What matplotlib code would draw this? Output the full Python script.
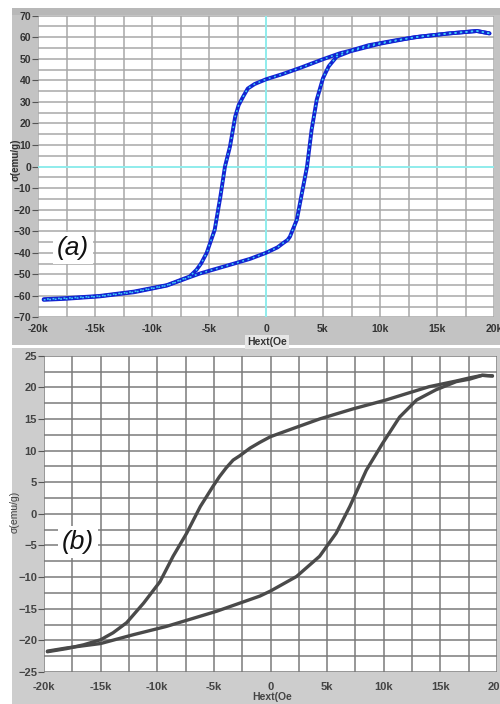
import numpy as np
import matplotlib
matplotlib.use('Agg')
import matplotlib.pyplot as plt
from matplotlib.patches import Rectangle

# panel (a) loop, field in kOe, sigma in emu/g
a_down_h = [19.6, 18.5, 16.1, 13.5, 11.5, 9.0, 7.4, 6.5, 5.0, 3.0, 1.5, 0.0, -1.0, -1.6, -2.0, -2.4, -2.7,
            -3.16, -3.6, -4.0, -4.5, -5.2, -5.7, -6.1, -6.7, -8.7, -11.6, -14.6, -17.5, -19.5]
a_down_s = [61.8, 62.9, 61.8, 60.3, 58.7, 56.3, 53.8, 52.6, 49.8, 45.8, 43.0, 40.5, 38.3, 36.2, 32.5, 28.5,
            23.2, 9.3, 0.0, -13.9, -29.3, -40.0, -45.0, -47.9, -51.0, -55.0, -58.0, -60.0, -61.0, -61.5]
a_up_h = [-19.5, -17.5, -14.6, -11.6, -8.7, -6.7, -5.8, -3.0, -1.4, 0.0, 1.0, 1.5, 1.9, 2.1, 2.7, 3.15,
          3.6, 4.0, 4.45, 5.0, 5.5, 6.2, 7.4, 10.0, 13.0, 16.1, 18.5, 19.6]
a_up_s = [-61.8, -61.3, -60.2, -58.3, -55.2, -51.3, -49.6, -45.3, -42.8, -40.0, -37.5, -35.5, -34.0,
          -32.5, -24.7, -12.3, 0.0, 17.0, 31.0, 41.0, 46.5, 51.0, 53.5, 57.0, 60.0, 61.8, 62.9, 61.8]

# panel (b) loop
b_down_h = [19.6, 18.7, 17.6, 16.4, 14.0, 12.0, 10.2, 7.3, 4.34, 2.0, 0.0, -0.94, -1.8, -2.7, -3.3,
            -3.9, -4.5, -5.06, -6.2, -7.4, -8.6, -9.75, -11.2, -12.7, -13.9, -15.0, -16.5, -18.0, -19.7]
b_down_s = [21.8, 21.9, 21.5, 21.0, 20.1, 19.0, 18.0, 16.6, 15.0, 13.5, 12.2, 11.3, 10.4, 9.2, 8.5,
            7.3, 5.9, 4.4, 1.15, -3.05, -6.7, -10.7, -14.1, -17.2, -18.8, -19.9, -20.7, -21.3, -21.8]
b_up_h = [-19.7, -18.0, -15.0, -12.1, -9.2, -4.76, -0.94, 0.0, 2.3, 4.34, 5.8, 7.0, 8.46, 9.9, 11.4,
          12.9, 14.6, 16.4, 17.6, 18.7, 19.6]
b_up_s = [-21.7, -21.2, -20.5, -19.1, -17.8, -15.4, -13.0, -12.2, -9.9, -6.7, -3.05, 1.15, 6.9, 11.15,
          15.3, 18.0, 19.6, 20.9, 21.3, 21.9, 21.8]

x_ticks = [-20, -15, -10, -5, 0, 5, 10, 15, 20]
x_labels = ['-20k', '-15k', '-10k', '-5k', '0', '5k', '10k', '15k', '20k']

plt.rcParams['font.family'] = ['Liberation Sans', 'DejaVu Sans']

W, H = 500, 704
fig = plt.figure(figsize=(W / 100, H / 100), dpi=100)
fig.patch.set_facecolor('white')


def px_rect(x0, y0, x1, y1, color, z=0):
    fig.add_artist(Rectangle((x0 / W, 1 - y1 / H), (x1 - x0) / W, (y1 - y0) / H,
                             transform=fig.transFigure, facecolor=color, edgecolor='none', zorder=z))


# grey frames of the two scanned panels
px_rect(12, 8, 500, 345, '#c3c3c3')
px_rect(12, 8, 500, 15, '#b8b8b8')
px_rect(12, 348, 500, 704, '#cdcdcd')


def px_axes(x0, y0, x1, y1):
    return fig.add_axes([x0 / W, 1 - y1 / H, (x1 - x0) / W, (y1 - y0) / H])


def style(ax, ylim, ymaj, ymin, gridc, labc, fs, xpad):
    ax.set_xlim(-20, 20)
    ax.set_ylim(*ylim)
    ax.set_xticks(x_ticks)
    ax.set_xticklabels(x_labels)
    ax.set_xticks(np.arange(-17.5, 20, 5), minor=True)
    ax.set_yticks(ymaj)
    ax.set_yticks(ymin, minor=True)
    ax.grid(which='both', color=gridc, lw=1.1)
    ax.set_axisbelow(True)
    for s in ax.spines.values():
        s.set_visible(False)
    ax.tick_params(axis='x', which='both', length=0, pad=xpad, labelsize=fs, labelcolor=labc)
    ax.tick_params(axis='y', which='major', length=4, width=0.8, color='#555555', pad=1,
                   labelsize=fs, labelcolor=labc)
    ax.tick_params(axis='y', which='minor', length=0)
    for t in ax.get_xticklabels() + ax.get_yticklabels():
        t.set_fontweight('bold')


# ---- panel (a)
ax1 = px_axes(38, 15.7, 494, 317.5)
style(ax1, (-70, 70), np.arange(-70, 71, 10), np.arange(-65, 70, 10), '#a8a8a8', '#333333', 7.5, 5)
ax1.axhline(0, color='#8ef2f2', lw=1.3, zorder=1)
ax1.axvline(0, color='#8ef2f2', lw=1.3, zorder=1)
for h, s in [(a_down_h, a_down_s), (a_up_h, a_up_s)]:
    ax1.plot(h, s, color='#1224d2', lw=2.8, solid_capstyle='round', zorder=3)
    ax1.plot(h, s, color='#3fcdf5', lw=1.1, dashes=(1.2, 2.4), zorder=4)
fig.text(73 / W, 1 - 248 / H, '(a)', ha='center', va='center', fontsize=19, style='italic',
         color='#111111', bbox=dict(facecolor='white', edgecolor='none', pad=3))
fig.text(15.5 / W, 1 - 160 / H, 'σ(emu/g)', rotation=90, ha='center', va='center', fontsize=7,
         fontweight='bold', color='#333333')
fig.text(267 / W, 1 - 342 / H, 'Hext(Oe', ha='center', va='center', fontsize=7.5, fontweight='bold',
         color='#333333', bbox=dict(facecolor='#e6e6e6', edgecolor='none', pad=1.2))

# ---- panel (b)
ax2 = px_axes(44, 355.7, 497, 672)
style(ax2, (-25, 25), np.arange(-25, 26, 5), np.arange(-22.5, 25, 5), '#7a7a7a', '#444444', 8, 7)
for h, s in [(b_down_h, b_down_s), (b_up_h, b_up_s)]:
    ax2.plot(h, s, color='#4a4a4a', lw=2.4, solid_capstyle='round', solid_joinstyle='round', zorder=3)
fig.text(78 / W, 1 - 542 / H, '(b)', ha='center', va='center', fontsize=19, style='italic',
         color='#111111', bbox=dict(facecolor='white', edgecolor='none', pad=3))
fig.text(15 / W, 1 - 512 / H, 'σ(emu/g)', rotation=90, ha='center', va='center', fontsize=7.5,
         color='#444444')
fig.text(272 / W, 1 - 697 / H, 'Hext(Oe', ha='center', va='center', fontsize=7.5, fontweight='bold',
         color='#444444')

fig.savefig('out.png', dpi=100)
